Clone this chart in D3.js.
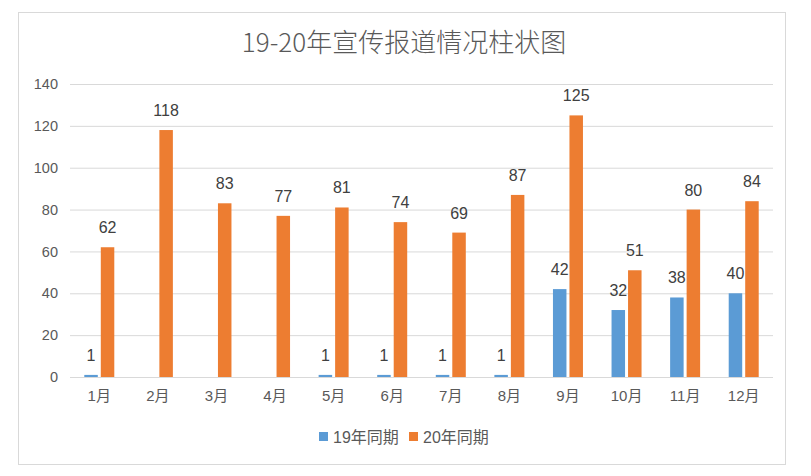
<!DOCTYPE html>
<html><head><meta charset="utf-8">
<script src="https://cdn.jsdelivr.net/npm/d3@7"></script>
<style>
body{margin:0;background:#fff;}
text{font-family:"Liberation Sans","Noto Sans CJK SC",sans-serif;}
</style></head>
<body>
<svg id="c" width="811" height="476"></svg>
<script>
const categories = ["1月","2月","3月","4月","5月","6月","7月","8月","9月","10月","11月","12月"];
const seriesNames = ["19年同期","20年同期"];
const values19 = [1,null,null,null,1,1,1,1,42,32,38,40];
const values20 = [62,118,83,77,81,74,69,87,125,51,80,84];
const yTicks = [0,20,40,60,80,100,120,140];
const colors = ["#5b9bd5","#ed7d31"];
const title = "19-20年宣传报道情况柱状图";

const svg = d3.select("#c");
svg.append("rect").attr("x",18.5).attr("y",12.5).attr("width",767).attr("height",452)
  .attr("fill","#fff").attr("stroke","#d9d9d9");

svg.append("text").attr("x",404).attr("y",52).attr("text-anchor","middle")
  .attr("font-size",26).attr("fill","#595959")
  .style("font-family","'Noto Sans CJK SC',sans-serif").style("font-weight",300).text(title);

const x = d3.scaleBand().domain(categories).range([70,773]);
const y = d3.scaleLinear().domain([0,140]).range([377,84]);

const g = svg.append("g");
g.selectAll("line.grid").data(yTicks).join("line").attr("class","grid")
  .attr("x1",70).attr("x2",773).attr("y1",d=>y(d)+0.5).attr("y2",d=>y(d)+0.5)
  .attr("stroke","#d9d9d9").attr("stroke-width",1);

const yAxis = d3.axisLeft(y).tickValues(yTicks).tickSize(0).tickPadding(12);
const ya = svg.append("g").attr("transform","translate(70,0)").call(yAxis);
ya.select(".domain").remove();
ya.selectAll("text").attr("font-size",14.5).attr("fill","#595959")
  .style("font-family","'Liberation Sans',sans-serif");

const xAxis = d3.axisBottom(x).tickSize(0).tickPadding(13);
const xa = svg.append("g").attr("transform","translate(0,377)").call(xAxis);
xa.select(".domain").remove();
xa.selectAll("text").attr("font-size",15).attr("fill","#595959");

const barW = 13.5, gap = 3;
const series = [values19, values20];
series.forEach((vals,s)=>{
  const off = s===0 ? -gap/2-barW : gap/2;
  const pts = categories.map((c,i)=>({c,v:vals[i]})).filter(d=>d.v!=null);
  svg.append("g").selectAll("rect").data(pts).join("rect")
    .attr("x",d=>x(d.c)+x.bandwidth()/2+off)
    .attr("y",d=>y(d.v)).attr("width",barW)
    .attr("height",d=>y(0)-y(d.v)).attr("fill",colors[s]);
  svg.append("g").selectAll("text").data(pts).join("text")
    .attr("x",d=>x(d.c)+x.bandwidth()/2+off+barW/2)
    .attr("y",d=>y(d.v)-14).attr("text-anchor","middle")
    .attr("font-size",16).attr("fill","#404040").text(d=>d.v);
});

const leg = svg.append("g");
const legX = [319,409];
seriesNames.forEach((n,i)=>{
  leg.append("rect").attr("x",legX[i]).attr("y",432).attr("width",9).attr("height",9).attr("fill",colors[i]);
  leg.append("text").attr("x",legX[i]+14).attr("y",443).attr("font-size",16).attr("fill","#595959").text(n);
});
</script>
</body></html>
